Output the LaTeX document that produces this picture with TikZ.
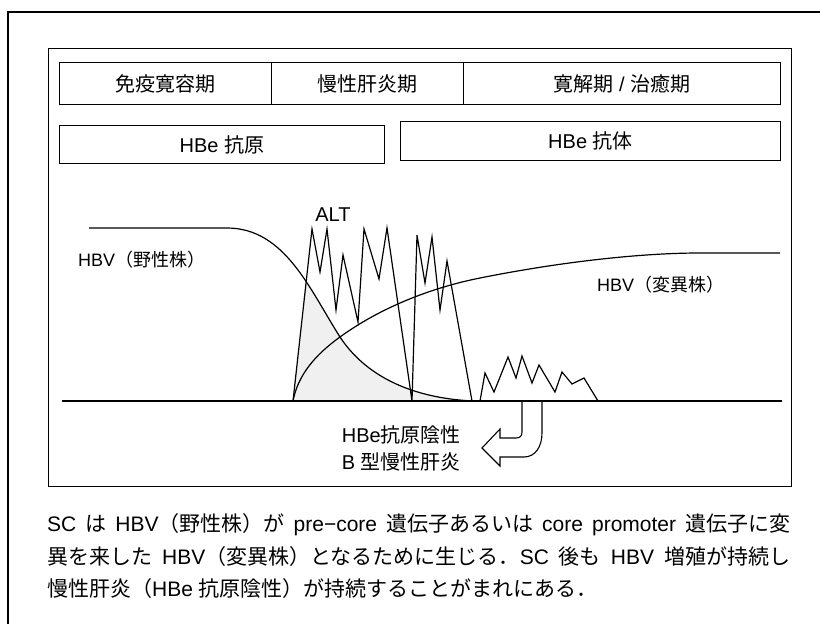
\documentclass[tikz,border=0pt]{standalone}
\usepackage{fontspec}
\setmainfont{Liberation Sans}
\newfontfamily\jfont{Noto Sans CJK JP}
\newcommand\J[1]{{\jfont #1}}
\begin{document}
\begin{tikzpicture}[x=1pt,y=-1pt,
  frame/.style={line width=1.1pt},
  box/.style={draw, line width=0.9pt, inner sep=0pt},
  boxtext/.style={font=\fontsize{20}{24}\selectfont},
  lbl/.style={inner sep=0pt, font=\fontsize{18}{22}\selectfont},
  curve/.style={line width=1.2pt},
  zig/.style={line width=1.2pt, line join=miter},
  captxt/.style={inner sep=0pt, anchor=west, font=\fontsize{21}{25}\selectfont},
  shade/.style={fill=black!6}]
\useasboundingbox (0,0) rectangle (820,624);
\fill[white] (0,0) rectangle (820,624);
% outer frame
\coordinate (oTR) at (820,12);
\coordinate (oTL) at (8,12);
\coordinate (oBL) at (8,624);
\draw[frame] (oTR) -- (oTL) -- (oBL);
% inner box
\node[box, minimum width=743pt, minimum height=438pt, anchor=north west] (inner) at (48,48) {};
% period row
\node[box, boxtext, minimum width=212pt, minimum height=42pt, anchor=north west] (p1) at (59,62) {\J{免疫寛容期}};
\node[box, boxtext, minimum width=192pt, minimum height=42pt, anchor=north west] (p2) at (271,62) {\J{慢性肝炎期}};
\node[box, boxtext, minimum width=317pt, minimum height=42pt, anchor=north west] (p3) at (463,62) {\J{寛解期} / \J{治癒期}};
% HBe row
\node[box, boxtext, minimum width=325pt, minimum height=38pt, anchor=north west] (h1) at (59,125) {HBe \J{抗原}};
\node[box, boxtext, minimum width=380pt, minimum height=39pt, anchor=north west] (h2) at (400,121) {HBe \J{抗体}};
% shading under ALT
\begin{scope}
\clip (293,401) -- (312,229) -- (320,272) -- (327,229) -- (336,310) -- (343,255) -- (358,322) -- (364,229) -- (379,279) -- (387,228) -- (412,401)
  -- (417,235) -- (425,283) -- (432,237) -- (440,310) -- (447,261) -- (472,401) -- cycle;
\fill[shade] (227,228) .. controls (285,228) and (310,290) .. (340,337) .. controls (365,375) and (410,398) .. (473,401) -- (227,401) -- cycle;
\end{scope}
% baseline
\coordinate (b0) at (62,401);
\coordinate (b1) at (782,401);
\draw[line width=1.4pt] (b0) -- (b1);
% HBV wild type
\coordinate (w0) at (89,228);
\draw[curve] (w0) -- (227,228) .. controls (285,228) and (310,290) .. (340,337) .. controls (365,375) and (410,398) .. (473,401);
% HBV variant
\coordinate (v0) at (293,401);
\draw[curve] (v0) .. controls (298,375) and (315,355) .. (340,337) .. controls (380,308) and (430,288) .. (480,278) .. controls (560,262) and (640,253) .. (700,253) -- (780,253);
% ALT
\draw[zig] (293,401) -- (312,229) -- (320,272) -- (327,229) -- (336,310) -- (343,255) -- (358,322) -- (364,229) -- (379,279) -- (387,228) -- (412,401)
  -- (417,235) -- (425,283) -- (432,237) -- (440,310) -- (447,261) -- (472,401);
\draw[zig] (480,401) -- (485,373) -- (494,392) -- (508,357) -- (516,378) -- (522,356) -- (532,383) -- (539,365) -- (555,392) -- (562,372) -- (572,384) -- (584,378) -- (598,401);
% labels
\node[lbl, font=\fontsize{20}{24}\selectfont] (alt) at (333,215) {ALT};
\node[lbl, anchor=west] (wild) at (78,260) {HBV\J{（野性株）}};
\node[lbl, anchor=west] (var) at (597,285) {HBV\J{（変異株）}};
% hollow arrow
\draw[line width=1.1pt, line join=miter] (522,401) -- (522,432) .. controls (522,436) and (520,438) .. (516,438) -- (500,438) -- (500,429) -- (482,448) -- (500,466) -- (500,457) -- (524,457) .. controls (535,457) and (542,447) .. (542,433) -- (542,401);
\node[lbl, anchor=east, font=\fontsize{20}{24}\selectfont] (neg1) at (461,435) {HBe\J{抗原陰性}};
\node[lbl, anchor=east, font=\fontsize{20}{24}\selectfont] (neg2) at (461,462) {B \J{型慢性肝炎}};
% caption
\node[captxt] (c1) at (47,525) {\hbox to 743pt{SC \J{は} HBV\J{（野性株）が} pre−core \J{遺伝子あるいは} core promoter \J{遺伝子に変}}};
\node[captxt] (c2) at (47,557) {\hbox to 743pt{\J{異を来した} HBV\J{（変異株）となるために生じる．}SC \J{後も} HBV \J{増殖が持続し}}};
\node[captxt] (c3) at (47,589) {\J{慢性肝炎（}HBe \J{抗原陰性）が持続することがまれにある．}};
\end{tikzpicture}
\end{document}
